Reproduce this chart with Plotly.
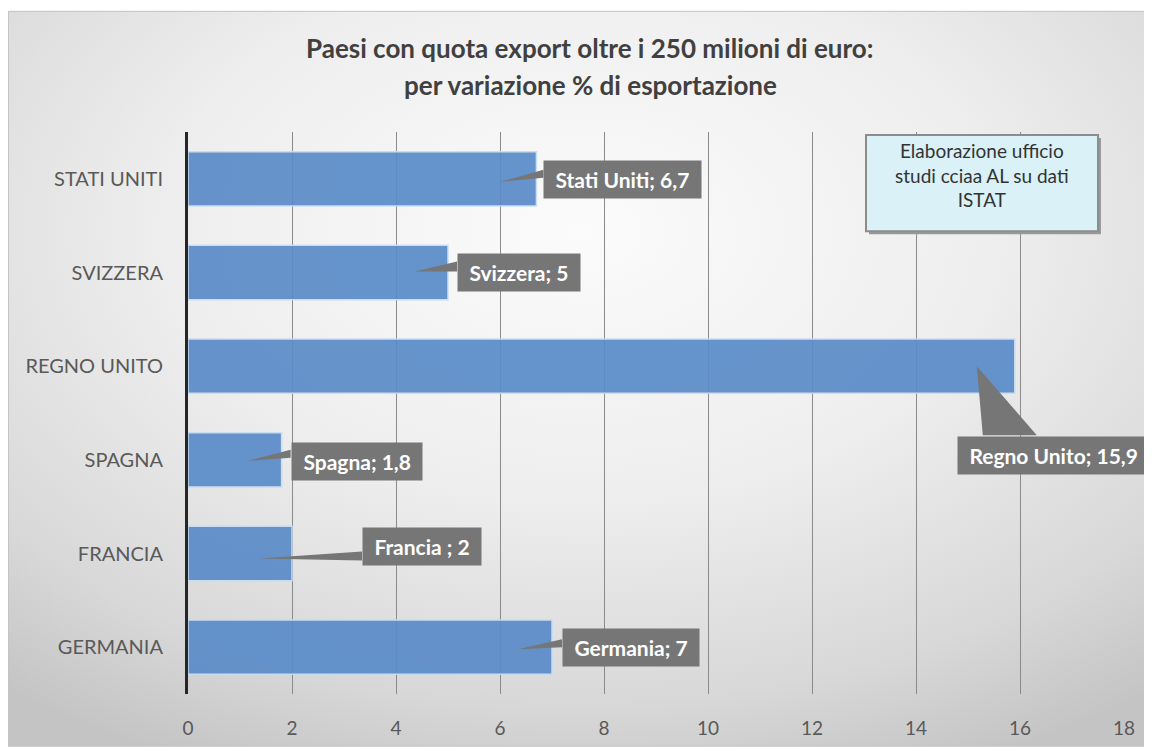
import plotly.graph_objects as go

# ---- data ----
countries = ["GERMANIA", "FRANCIA", "SPAGNA", "REGNO UNITO", "SVIZZERA", "STATI UNITI"]
label_names = ["Germania", "Francia ", "Spagna", "Regno Unito", "Svizzera", "Stati Uniti"]
values = [7, 2, 1.8, 15.9, 5, 6.7]
x_ticks = [0, 2, 4, 6, 8, 10, 12, 14, 16, 18]

title_lines = ["Paesi con quota export oltre i 250 milioni di euro:",
               "per variazione % di esportazione"]
source_text = "Elaborazione ufficio<br>studi cciaa AL su dati<br>ISTAT"

# ---- label styling (pixel offsets from bar end) ----
box_xshift = [10, 70, 9, -58, 9, 7]
box_yshift = [0, 7, -2, -89, 0, -1]
wedges = [
    ((-34, -2), (10, 8), (10, 0)),
    ((-33, -5), (70, 2), (70, -7)),
    ((-34, -1), (9, 10), (9, 2)),
    ((-38, 0), (-32, -69), (22, -69)),
    ((-33, 1), (9, 11), (9, 1)),
    ((-36, -3), (7, 9), (7, 1)),
]

OFF = 8  # page body margin
W, H = 1144, 743
L, T = 188 - OFF, 132 - OFF
R = W - (1124 - OFF)
B = H - (698 - OFF)
PW, PH = W - L - R, H - T - B

def px_x(p):  # page pixel -> paper x
    return (p - OFF - L) / PW

def px_y(p):  # page pixel -> paper y
    return 1 - (p - OFF - T) / PH

def fmt(v):
    return ("%g" % v).replace(".", ",")

FONT = "Lato"
LABEL_GRAY = "#767676"

fig = go.Figure()
fig.add_trace(go.Bar(
    x=values, y=countries, orientation="h",
    marker=dict(color="#5b8cc8", opacity=0.93,
                line=dict(color="#c9dcf1", width=1.5)),
    hoverinfo="x+y", showlegend=False,
))

svg = ("data:image/svg+xml;utf8,"
       "<svg xmlns='http://www.w3.org/2000/svg' width='1144' height='741' preserveAspectRatio='none'>"
       "<defs><radialGradient id='g' cx='50%' cy='30%' r='80%'>"
       "<stop offset='0' stop-color='%23fbfbfb'/>"
       "<stop offset='0.45' stop-color='%23eeeeee'/>"
       "<stop offset='0.8' stop-color='%23d8d8d8'/>"
       "<stop offset='1' stop-color='%23c4c4c4'/>"
       "</radialGradient></defs>"
       "<rect width='1144' height='741' fill='url(%23g)'/></svg>")

images = [dict(source=svg, xref="paper", yref="paper",
               x=px_x(8), y=px_y(10), sizex=W / PW, sizey=(751 - 10) / PH,
               xanchor="left", yanchor="top", sizing="stretch", layer="below")]

shapes = []
shapes.append(dict(type="rect", xref="paper", yref="paper",
                   x0=px_x(8.5), x1=px_x(1151.5), y0=px_y(750.5), y1=px_y(10.5),
                   line=dict(color="#c4c4c4", width=1), fillcolor="rgba(0,0,0,0)",
                   layer="below"))

annotations = []
for i, (c, n, v) in enumerate(zip(countries, label_names, values)):
    tip, b1, b2 = wedges[i]
    path = "M %d,%d L %d,%d L %d,%d Z" % (tip[0], tip[1], b1[0], b1[1], b2[0], b2[1])
    shapes.append(dict(type="path", xref="x", yref="y",
                       xsizemode="pixel", ysizemode="pixel",
                       xanchor=v, yanchor=i, path=path,
                       fillcolor=LABEL_GRAY, line=dict(width=0), layer="above"))
    annotations.append(dict(
        x=v, y=c, xref="x", yref="y", xanchor="left", yanchor="middle",
        xshift=box_xshift[i], yshift=box_yshift[i],
        text="&nbsp;<b>%s; %s</b>&nbsp;" % (n, fmt(v)), showarrow=False,
        bgcolor=LABEL_GRAY, borderpad=6,
        font=dict(family=FONT, size=21, color="white"),
    ))

# title lines
for txt, yy in zip(title_lines, [47, 85]):
    annotations.append(dict(x=px_x(590), y=px_y(yy), xref="paper", yref="paper",
                            text="<b>%s</b>" % txt, showarrow=False,
                            xanchor="center", yanchor="middle",
                            font=dict(family=FONT, size=26, color="#404040")))

# source box
shapes.append(dict(type="rect", xref="paper", yref="paper",
                   x0=px_x(869), x1=px_x(1101), y0=px_y(235), y1=px_y(138),
                   fillcolor="#9a9a9a", line=dict(width=0), layer="above"))
shapes.append(dict(type="rect", xref="paper", yref="paper",
                   x0=px_x(866), x1=px_x(1098), y0=px_y(232), y1=px_y(135),
                   fillcolor="#d9f1f7", line=dict(color="#8c8c8c", width=2),
                   layer="above"))
annotations.append(dict(x=px_x(982), y=px_y(175), xref="paper", yref="paper",
                        text=source_text, showarrow=False,
                        xanchor="center", yanchor="middle",
                        font=dict(family=FONT, size=19, color="#333333")))

fig.update_layout(
    width=W, height=H,
    margin=dict(l=L, r=R, t=T, b=B, pad=0),
    paper_bgcolor="white", plot_bgcolor="rgba(0,0,0,0)",
    bargap=0.42,
    images=images, shapes=shapes, annotations=annotations,
    xaxis=dict(range=[0, 18], tickvals=x_ticks, showgrid=True,
               gridcolor="#8a8a8a", gridwidth=1.4, zeroline=False,
               showline=False, ticks="outside", ticklen=17,
               tickcolor="rgba(0,0,0,0)",
               tickfont=dict(family=FONT, size=19, color="#595959")),
    yaxis=dict(categoryorder="array", categoryarray=countries,
               showline=True, linecolor="#262626", linewidth=3,
               showgrid=False, ticks="outside", ticklen=18,
               tickcolor="rgba(0,0,0,0)",
               tickfont=dict(family=FONT, size=20, color="#595959")),
    font=dict(family=FONT),
)

fig.write_html("out.html")
